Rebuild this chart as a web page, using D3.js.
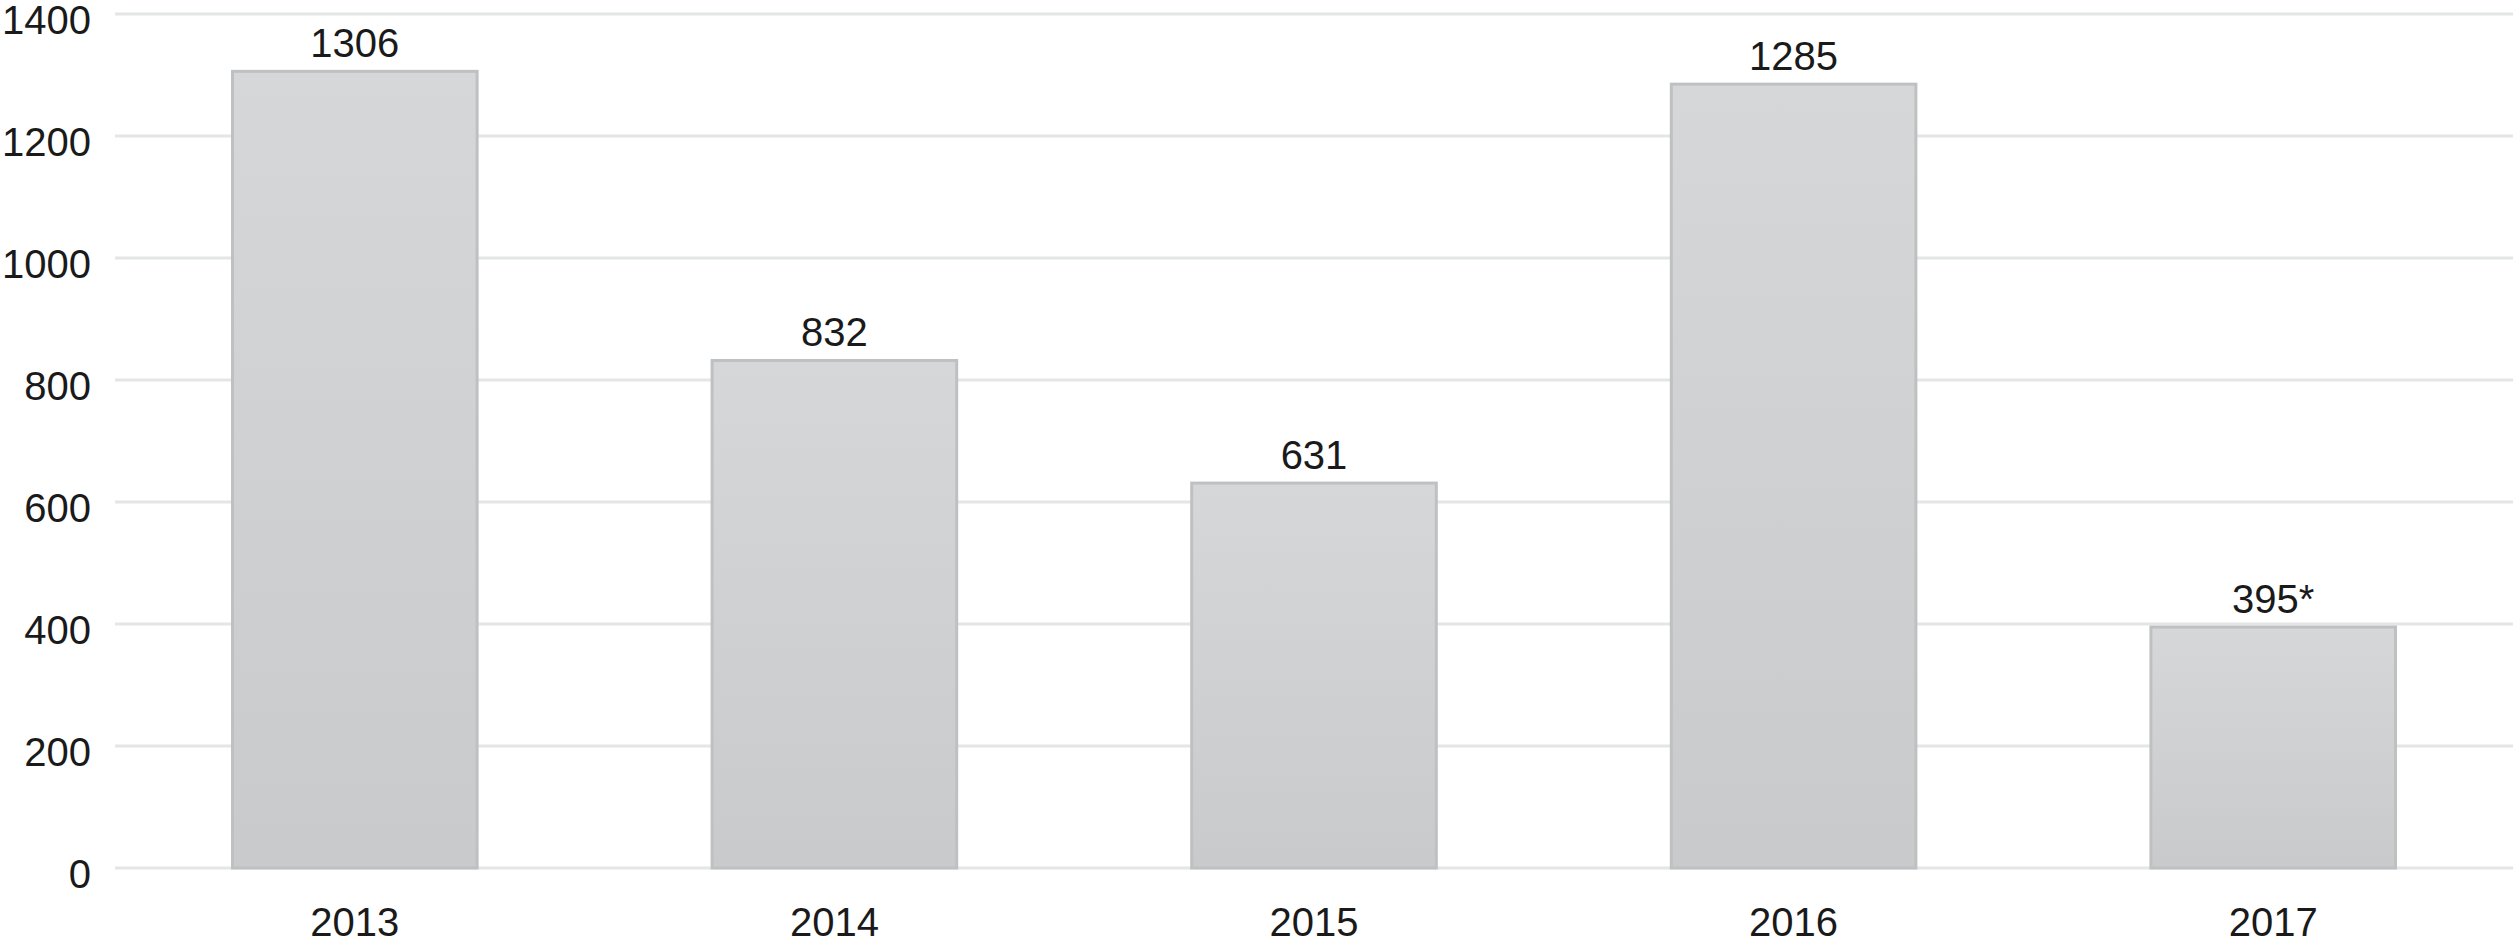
<!DOCTYPE html>
<html><head><meta charset="utf-8">
<script src="https://cdn.jsdelivr.net/npm/d3@7"></script>
<style>html,body{margin:0;padding:0;background:#fff;}</style>
</head><body>
<svg id="chart" width="2515" height="945"></svg>
<script>
const categories = ["2013", "2014", "2015", "2016", "2017"];
const values = [1306, 832, 631, 1285, 395];
const valueLabels = ["1306", "832", "631", "1285", "395*"];
const yTicks = [0, 200, 400, 600, 800, 1000, 1200, 1400];

const svg = d3.select("#chart");
const margin = {left: 115, right: 2, top: 14, bottom: 77};
const W = 2515, H = 945;
const FONT = "Liberation Sans, Arial, Helvetica, sans-serif";
const x = d3.scaleBand().domain(categories).range([margin.left, W - margin.right]).paddingInner(0.49).paddingOuter(0.245);
const y = d3.scaleLinear().domain([0, 1400]).range([H - margin.bottom, margin.top]);

const defs = svg.append("defs");
const grad = defs.append("linearGradient").attr("id", "barGrad").attr("x1", 0).attr("y1", 0).attr("x2", 0).attr("y2", 1);
grad.append("stop").attr("offset", "0%").attr("stop-color", "#d6d7d9");
grad.append("stop").attr("offset", "100%").attr("stop-color", "#c9cacc");

// gridlines
svg.append("g").selectAll("line").data(yTicks).join("line")
  .attr("x1", margin.left).attr("x2", W - margin.right)
  .attr("y1", d => y(d)).attr("y2", d => y(d))
  .attr("stroke", "#e4e5e5").attr("stroke-width", 3);

// y axis labels
const yAxis = d3.axisLeft(y).tickValues(yTicks).tickFormat(d3.format("d")).tickSize(0).tickPadding(0);
const gy = svg.append("g").attr("transform", `translate(91,7)`).call(yAxis);
gy.select(".domain").remove();
gy.selectAll("text").attr("font-family", FONT).attr("font-size", 40).attr("fill", "#1a1a1a");

// bars
svg.append("g").selectAll("rect").data(values).join("rect")
  .attr("x", (d, i) => x(categories[i]))
  .attr("width", x.bandwidth())
  .attr("y", d => y(d))
  .attr("height", d => y(0) - y(d))
  .attr("fill", "url(#barGrad)")
  .attr("stroke", "#bfc0c2").attr("stroke-width", 3);

// value labels
svg.append("g").selectAll("text").data(values).join("text")
  .attr("x", (d, i) => x(categories[i]) + x.bandwidth() / 2)
  .attr("y", d => y(d) - 14)
  .attr("text-anchor", "middle")
  .attr("font-family", FONT).attr("font-size", 40).attr("fill", "#1a1a1a")
  .text((d, i) => valueLabels[i]);

// x axis labels
const xAxis = d3.axisBottom(x).tickSize(0).tickPadding(0);
const gx = svg.append("g").attr("transform", `translate(0,${y(0) + 40})`).call(xAxis);
gx.select(".domain").remove();
gx.selectAll("text").attr("font-family", FONT).attr("font-size", 40).attr("fill", "#1a1a1a");
</script>
</body></html>
